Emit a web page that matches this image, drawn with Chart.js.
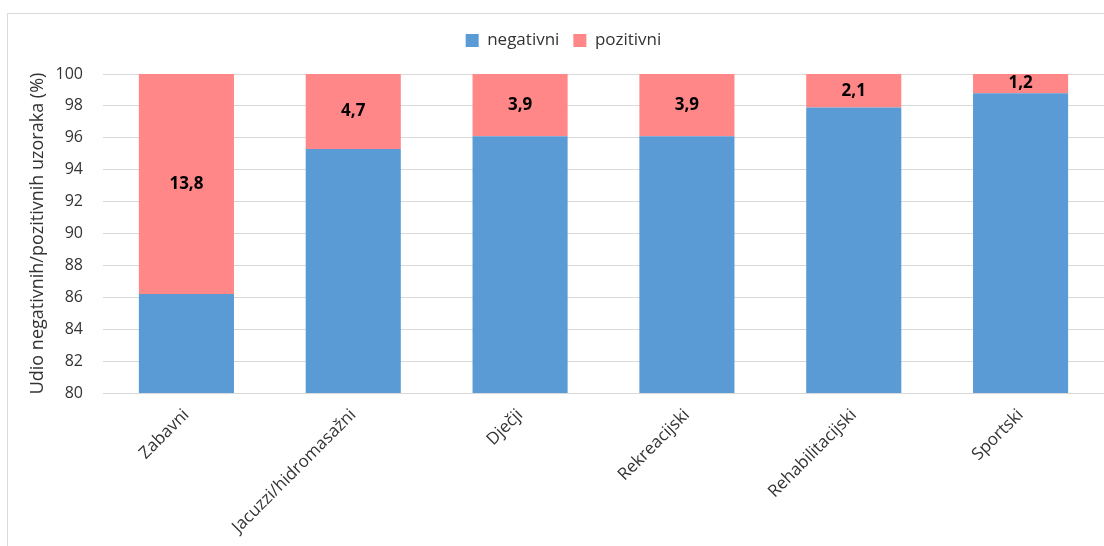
<!DOCTYPE html>
<html>
<head>
<meta charset="utf-8">
<script src="https://cdn.jsdelivr.net/npm/chart.js@4/dist/chart.umd.min.js"></script>
<style>
    html, body { margin: 0; padding: 0; background: #fff; }
    #wrap { width: 1104px; height: 546px; position: relative; }
</style>
</head>
<body>
<div id="wrap"><canvas id="udioChart"></canvas></div>
<script>
const categories = ['Zabavni', 'Jacuzzi/hidromasažni', 'Dječji', 'Rekreacijski', 'Rehabilitacijski', 'Sportski'];
const pozitivni = [13.8, 4.7, 3.9, 3.9, 2.1, 1.2];
const negativni = [86.2, 95.3, 96.1, 96.1, 97.9, 98.8];
const yTicks = [80, 82, 84, 86, 88, 90, 92, 94, 96, 98, 100];

const fontFamily = '"Open Sans", "Noto Sans", sans-serif';
const textColor = '#333333';

// frame round the chart, like the Excel chart area border
const framePlugin = {
    id: 'frame',
    beforeDraw(chart) {
        const ctx = chart.ctx;
        ctx.save();
        ctx.strokeStyle = '#d9d9d9';
        ctx.lineWidth = 1;
        ctx.strokeRect(7.5, 13.5, 1200, 600);
        ctx.restore();
    }
};

// value labels inside the pink segments
const valueLabels = {
    id: 'valueLabels',
    afterDatasetsDraw(chart) {
        const ctx = chart.ctx;
        const meta = chart.getDatasetMeta(1);
        ctx.save();
        ctx.font = 'bold 17px ' + fontFamily;
        ctx.fillStyle = '#000';
        ctx.textAlign = 'center';
        ctx.textBaseline = 'middle';
        meta.data.forEach((bar, i) => {
            const mid = (bar.y + bar.base) / 2;
            ctx.fillText(pozitivni[i].toFixed(1).replace('.', ','), bar.x, mid);
        });
        ctx.restore();
    }
};

// push the plot down below the legend
const legendGap = {
    id: 'legendGap',
    beforeInit(chart) {
        const fit = chart.legend.fit;
        chart.legend.fit = function () {
            fit.bind(chart.legend)();
            this.height += 15;
        };
    }
};

new Chart(document.getElementById('udioChart').getContext('2d'), {
    type: 'bar',
    data: {
        labels: categories,
        datasets: [{
            label: 'negativni',
            data: negativni,
            backgroundColor: '#5b9bd5',
            categoryPercentage: 1,
            barPercentage: 0.57
        }, {
            label: 'pozitivni',
            data: pozitivni,
            backgroundColor: '#ff8787',
            categoryPercentage: 1,
            barPercentage: 0.57
        }]
    },
    options: {
        responsive: true,
        maintainAspectRatio: false,
        animation: false,
        layout: {
            padding: { top: 18, left: 23, right: 0, bottom: 0 }
        },
        plugins: {
            legend: {
                display: true,
                position: 'top',
                labels: {
                    boxWidth: 13,
                    boxHeight: 13,
                    padding: 14,
                    color: textColor,
                    font: { family: fontFamily, size: 17 }
                }
            },
            tooltip: { enabled: false }
        },
        scales: {
            x: {
                stacked: true,
                grid: { display: false },
                border: { display: false },
                ticks: {
                    color: textColor,
                    font: { family: fontFamily, size: 17 },
                    maxRotation: 45,
                    minRotation: 45,
                    padding: 4
                },
                afterFit(scale) { scale.height = 153; }
            },
            y: {
                stacked: true,
                min: 80,
                max: 100,
                afterBuildTicks(scale) { scale.ticks = yTicks.map(v => ({ value: v })); },
                grid: { color: '#d9d9d9', drawTicks: false },
                border: { display: false },
                ticks: {
                    color: textColor,
                    font: { family: fontFamily, size: 16 },
                    padding: 20
                },
                title: {
                    display: true,
                    text: 'Udio negativnih/pozitivnih uzoraka (%)',
                    color: textColor,
                    font: { family: fontFamily, size: 18 }
                },
                afterFit(scale) { scale.width = 80; }
            }
        }
    },
    plugins: [framePlugin, valueLabels, legendGap]
});
</script>
</body>
</html>
